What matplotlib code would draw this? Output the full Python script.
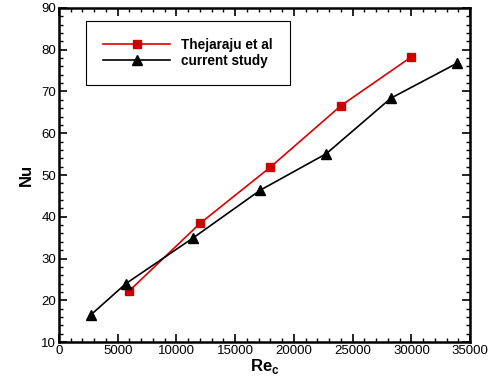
import matplotlib
matplotlib.use('Agg')
import matplotlib.pyplot as plt
from matplotlib.ticker import MultipleLocator

# 字体设置（Arial 风格）
plt.rcParams['font.family'] = ['Liberation Sans', 'DejaVu Sans']
plt.rcParams['mathtext.fontset'] = 'custom'
plt.rcParams['mathtext.rm'] = 'Liberation Sans'
plt.rcParams['mathtext.bf'] = 'Liberation Sans:bold'

# ====================== 数据 ======================
re_thejaraju = [6000, 12000, 18000, 24000, 30000]
nu_thejaraju = [22.3, 38.4, 51.9, 66.6, 78.3]

re_current = [2750, 5700, 11450, 17150, 22750, 28250, 33900]
nu_current = [16.6, 24.0, 35.0, 46.4, 55.1, 68.4, 76.8]

labels = ['Thejaraju et al', 'current study']

# ====================== 绘图 ======================
fig = plt.figure(figsize=(4.95, 3.78), dpi=100)
ax = fig.add_axes([0.119, 0.095, 0.831, 0.884])

ax.plot(re_thejaraju, nu_thejaraju, color='#dd0000', lw=1.2,
        marker='s', markersize=6, markerfacecolor='#cc0000',
        markeredgecolor='#cc0000', label=labels[0])
ax.plot(re_current, nu_current, color='black', lw=1.2,
        marker='^', markersize=7, markerfacecolor='black',
        markeredgecolor='black', label=labels[1])

ax.set_xlim(0, 35000)
ax.set_ylim(10, 90)
ax.xaxis.set_major_locator(MultipleLocator(5000))
ax.xaxis.set_minor_locator(MultipleLocator(1000))
ax.yaxis.set_major_locator(MultipleLocator(10))
ax.yaxis.set_minor_locator(MultipleLocator(2))

ax.tick_params(which='both', direction='in', top=True, right=True,
               labelsize=9.5, pad=2)
ax.tick_params(which='major', length=6, width=1.2)
ax.tick_params(which='minor', length=3, width=1)
for s in ax.spines.values():
    s.set_linewidth(1.8)

ax.set_xlabel(r'$\mathbf{Re}_\mathbf{c}$', fontsize=12, labelpad=0)
ax.set_ylabel('Nu', fontsize=12, fontweight='bold', labelpad=5)

leg = ax.legend(loc='upper left', bbox_to_anchor=(0.067, 0.961),
                prop={'weight': 'bold', 'size': 9.8},
                fancybox=False, edgecolor='black', framealpha=1,
                borderpad=1.25, labelspacing=0.12, handlelength=4.9,
                handletextpad=0.8, borderaxespad=0)
leg.get_frame().set_linewidth(0.8)

plt.savefig('out.png', dpi=100)
